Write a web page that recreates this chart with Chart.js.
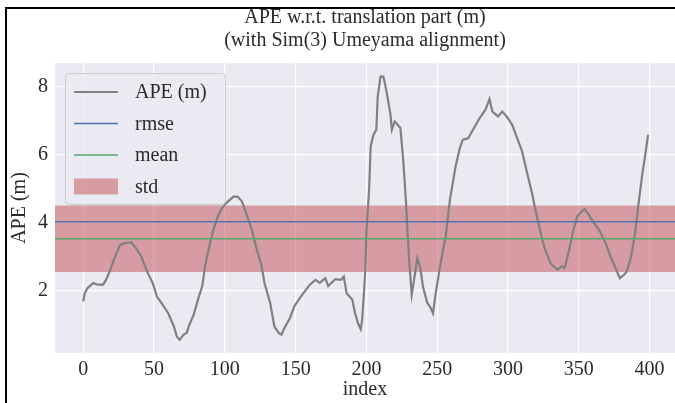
<!DOCTYPE html>
<html>
<head>
<meta charset="utf-8">
<script src="https://cdn.jsdelivr.net/npm/chart.js@4"></script>
<style>
  html, body { margin: 0; padding: 0; background: #fff; overflow: hidden; }
  canvas { display: block; }
</style>
</head>
<body>
<canvas id="chart-ape" width="675" height="403"></canvas>
<script>
/* APE trajectory error with stats (rmse / mean / std band) */

const APE_INDEX = [0, 1, 3, 7, 10, 14, 16, 19, 22, 26, 29, 34, 37, 41, 45, 49, 52, 56, 60, 64,
  66, 68, 71, 73, 75, 78, 81, 84, 86, 89, 92, 95, 98, 101, 106, 109, 112, 115, 119, 122,
  126, 128, 132, 135, 138, 140, 142, 146, 149, 153, 157, 160, 164, 167, 171, 173, 178, 182, 184, 186,
  190, 192, 194, 196, 197, 199, 200, 202, 203, 205, 207, 208, 210, 212, 214, 215, 217, 218, 220, 224,
  226, 228, 230, 232, 234, 236, 238, 240, 243, 245, 247, 249, 252, 256, 259, 263, 266, 268, 272, 276,
  280, 284, 287, 289, 293, 296, 299, 303, 306, 310, 313, 317, 319, 323, 326, 330, 332, 335, 338, 340,
  343, 346, 349, 351, 354, 357, 360, 365, 369, 372, 376, 379, 382, 384, 387, 390, 392, 395, 397, 399];

const APE_VALUE = [1.68, 1.92, 2.07, 2.22, 2.17, 2.17, 2.31, 2.60, 2.95, 3.34, 3.39, 3.41, 3.25, 3.00, 2.56, 2.22, 1.82, 1.58, 1.33, 0.94,
  0.65, 0.55, 0.70, 0.75, 1.00, 1.29, 1.73, 2.12, 2.71, 3.29, 3.79, 4.18, 4.42, 4.57, 4.76, 4.76, 4.62, 4.28, 3.79, 3.29,
  2.71, 2.22, 1.63, 0.94, 0.75, 0.70, 0.89, 1.19, 1.53, 1.78, 2.00, 2.17, 2.31, 2.22, 2.36, 2.13, 2.33, 2.31, 2.41, 1.92,
  1.73, 1.33, 1.04, 0.86, 1.14, 2.41, 3.69, 5.06, 6.24, 6.58, 6.73, 7.71, 8.29, 8.29, 7.90, 7.66, 7.17, 6.73, 6.97, 6.78,
  5.84, 4.57, 3.00, 1.87, 2.41, 2.95, 2.68, 2.10, 1.63, 1.52, 1.33, 1.92, 2.71, 3.59, 4.67, 5.65, 6.19, 6.43, 6.48, 6.78,
  7.07, 7.31, 7.63, 7.26, 7.12, 7.26, 7.12, 6.87, 6.53, 6.09, 5.55, 4.86, 4.45, 3.72, 3.22, 2.81, 2.71, 2.61, 2.71, 2.66,
  3.15, 3.74, 4.18, 4.28, 4.39, 4.23, 4.03, 3.74, 3.39, 3.05, 2.66, 2.36, 2.46, 2.56, 3.00, 3.74, 4.47, 5.45, 5.99, 6.58];

const STAT_RMSE = 4.02;
const STAT_MEAN = 3.52;
const STAT_STD = 0.98;

const X_RANGE = [-20, 418];
const Y_RANGE = [0.16, 8.69];
const X_TICKS = [0, 50, 100, 150, 200, 250, 300, 350, 400];
const Y_TICKS = [2, 4, 6, 8];

const TEXT_COLOR = '#2b2b2b';
const FONT_FAMILY = "'Liberation Serif', 'DejaVu Serif', serif";

const LEGEND_ITEMS = [
  { label: 'APE (m)', color: '#808080', kind: 'line' },
  { label: 'rmse', color: '#4c72b0', kind: 'line' },
  { label: 'mean', color: '#55a868', kind: 'line' },
  { label: 'std', color: 'rgba(196,78,82,0.5)', kind: 'patch' },
];

const hline = v => X_RANGE.map(x => ({ x, y: v }));

// seaborn-ish axes background + the black frame around the figure
const plotBackground = {
  id: 'plotBackground',
  beforeDraw(chart) {
    const { ctx, chartArea: a } = chart;
    ctx.save();
    ctx.fillStyle = '#eaeaf2';
    ctx.fillRect(a.left, a.top, a.right - a.left, a.bottom - a.top);
    ctx.fillStyle = '#000';
    ctx.fillRect(5, 7, chart.width - 5, 2);
    ctx.fillRect(5, 7, 2, chart.height - 7);
    ctx.restore();
  }
};

// legend box sitting in the upper left corner of the axes
const insideLegend = {
  id: 'insideLegend',
  afterDatasetsDraw(chart) {
    const { ctx, chartArea: a } = chart;
    const x0 = a.left + 10, y0 = a.top + 10, w = 160, h = 131;
    ctx.save();
    ctx.beginPath();
    ctx.roundRect(x0 + 0.5, y0 + 0.5, w, h, 4);
    ctx.fillStyle = 'rgba(234,234,242,0.8)';
    ctx.fill();
    ctx.strokeStyle = '#cccccc';
    ctx.lineWidth = 1;
    ctx.stroke();

    ctx.font = '20px ' + FONT_FAMILY;
    ctx.textBaseline = 'middle';
    LEGEND_ITEMS.forEach((it, i) => {
      const cy = y0 + 19 + i * 31.5;
      if (it.kind === 'line') {
        ctx.strokeStyle = it.color;
        ctx.lineWidth = it.label === 'APE (m)' ? 2 : 1.5;
        ctx.beginPath();
        ctx.moveTo(x0 + 9, cy);
        ctx.lineTo(x0 + 53, cy);
        ctx.stroke();
      } else {
        ctx.fillStyle = it.color;
        ctx.fillRect(x0 + 9, cy - 8, 44, 16);
      }
      ctx.fillStyle = TEXT_COLOR;
      ctx.fillText(it.label, x0 + 70, cy + 1);
    });
    ctx.restore();
  }
};

const ctx = document.getElementById('chart-ape').getContext('2d');

new Chart(ctx, {
  type: 'line',
  data: {
    datasets: [
      {
        label: 'mean',
        data: hline(STAT_MEAN),
        borderColor: '#55a868',
        borderWidth: 1.5,
        pointRadius: 0,
      },
      {
        label: 'rmse',
        data: hline(STAT_RMSE),
        borderColor: '#4c72b0',
        borderWidth: 1.5,
        pointRadius: 0,
      },
      {
        label: 'APE (m)',
        data: APE_INDEX.map((x, i) => ({ x, y: APE_VALUE[i] })),
        borderColor: '#808080',
        borderWidth: 2.2,
        pointRadius: 0,
        tension: 0,
      },
      {
        label: 'std',
        data: hline(STAT_MEAN + STAT_STD),
        borderWidth: 0,
        borderColor: 'rgba(0,0,0,0)',
        backgroundColor: 'rgba(196,78,82,0.5)',
        fill: { value: STAT_MEAN - STAT_STD },
        pointRadius: 0,
      },
    ]
  },
  options: {
    responsive: false,
    animation: false,
    devicePixelRatio: 1,
    layout: { padding: { left: 0, right: 0, top: 0, bottom: 0 } },
    plugins: {
      legend: { display: false },
      tooltip: { enabled: false },
      title: {
        display: true,
        fullSize: false,
        text: ['APE w.r.t. translation part (m)', '(with Sim(3) Umeyama alignment)'],
        color: TEXT_COLOR,
        font: { family: FONT_FAMILY, size: 20, weight: 'normal', lineHeight: 1.15 },
        padding: { top: 6, bottom: 11 },
      },
    },
    scales: {
      x: {
        type: 'linear',
        min: X_RANGE[0],
        max: X_RANGE[1],
        afterBuildTicks: s => { s.ticks = X_TICKS.map(v => ({ value: v })); },
        afterFit: s => { s.height = 50; },
        border: { display: false },
        grid: { color: '#ffffff', lineWidth: 1.2, drawTicks: false },
        ticks: { color: TEXT_COLOR, padding: 5, maxRotation: 0,
                 font: { family: FONT_FAMILY, size: 20 } },
        title: { display: true, text: 'index', color: TEXT_COLOR,
                 font: { family: FONT_FAMILY, size: 20 }, padding: { top: 0, bottom: 1 } },
      },
      y: {
        min: Y_RANGE[0],
        max: Y_RANGE[1],
        afterBuildTicks: s => { s.ticks = Y_TICKS.map(v => ({ value: v })); },
        afterFit: s => { s.width = 55; },
        border: { display: false },
        grid: { color: '#ffffff', lineWidth: 1.2, drawTicks: false },
        ticks: { color: TEXT_COLOR, padding: 7,
                 font: { family: FONT_FAMILY, size: 20 } },
        title: { display: true, text: 'APE (m)', color: TEXT_COLOR,
                 font: { family: FONT_FAMILY, size: 20 }, padding: { top: 8, bottom: 0 } },
      }
    }
  },
  plugins: [plotBackground, insideLegend]
});
</script>
</body>
</html>
